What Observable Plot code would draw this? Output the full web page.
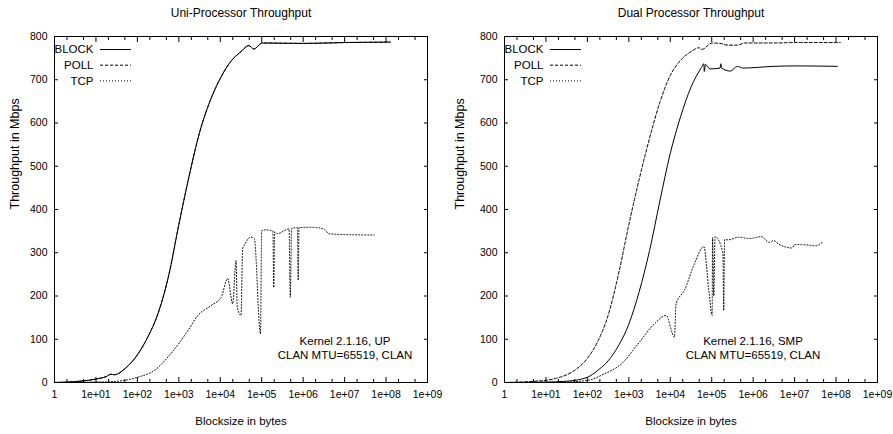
<!DOCTYPE html>
<html><head><meta charset="utf-8">
<script src="https://cdn.jsdelivr.net/npm/d3@7"></script>
<script src="https://cdn.jsdelivr.net/npm/@observablehq/plot@0.6"></script>
<style>
body{margin:0;background:#fff;}
#wrap{position:relative;width:893px;height:434px;overflow:hidden;}
#wrap > svg{position:absolute;top:0;}
</style></head><body><div id="wrap"></div>
<script>
// ---------- data ----------
const seriesNames = ["BLOCK", "POLL", "TCP"];
const xTickValues = [1, 1e1, 1e2, 1e3, 1e4, 1e5, 1e6, 1e7, 1e8, 1e9];
const yTickValues = [0, 100, 200, 300, 400, 500, 600, 700, 800];

// Uni-processor
const upBlockSize = [1, 3, 10, 18, 23, 28, 50, 100, 178, 316, 562, 1000, 1778, 3162, 5623, 10000, 17783, 31623, 48978, 64565, 102329, 1000000, 10000000, 125000000];
const upBlockMbps = [0, 2, 8, 14, 19, 18, 32, 64, 105, 160, 245, 365, 478, 578, 650, 703, 742, 765, 779, 771, 785, 784, 786, 787];
const upPollSize = [1, 3, 10, 18, 23, 28, 50, 100, 178, 316, 562, 1000, 1778, 3162, 5623, 10000, 17783, 31623, 48978, 64565, 102329, 1000000, 10000000, 125000000];
const upPollMbps = [0, 2, 8, 14, 19, 18, 32, 64, 105, 160, 245, 365, 478, 578, 650, 703, 742, 765, 779, 771, 785, 784, 786, 787];
const upTcpSize = [1, 10, 23, 50, 100, 257, 646, 1660, 2884, 6026, 10471, 15136, 19953, 23988, 25704, 31623, 34674, 39811, 53703, 66069, 93325, 100000, 123027, 186209, 194984, 204174, 234423, 457088, 489779, 524807, 724436, 758578, 794328, 1513561, 3162278, 4168694, 10000000, 51286138];
const upTcpMbps = [0, 1, 2, 5, 12, 28, 67, 120, 155, 178, 197, 240, 182, 282, 174, 155, 309, 321, 336, 333, 113, 351, 353, 350, 220, 348, 344, 355, 197, 356, 358, 236, 358, 359, 355, 344, 342, 341];

// Dual processor
const smpBlockSize = [1, 10, 32, 100, 178, 316, 562, 1000, 1778, 3162, 5623, 10000, 17783, 31623, 56234, 64565, 66069, 70795, 91201, 158489, 165959, 173780, 281838, 416869, 562341, 3162278, 10000000, 107151931];
const smpBlockMbps = [0, 1, 3, 12, 28, 50, 85, 135, 210, 305, 420, 530, 615, 683, 728, 737, 719, 735, 725, 727, 737, 727, 720, 731, 727, 731, 732, 731];
const smpPollSize = [1, 10, 18, 32, 56, 100, 178, 316, 562, 1000, 1778, 3162, 5623, 10000, 17783, 31623, 50119, 57544, 102329, 158489, 251189, 416869, 630957, 3162278, 10000000, 125892541];
const smpPollMbps = [0, 5, 10, 18, 32, 56, 95, 155, 250, 365, 470, 565, 648, 710, 745, 765, 774, 770, 785, 784, 780, 780, 785, 785, 786, 786];
const smpTcpSize = [1, 10, 32, 102, 257, 661, 1660, 4169, 7943, 12589, 13804, 21878, 38019, 64565, 85114, 102329, 104713, 112202, 120226, 186209, 194984, 204174, 257040, 446684, 794328, 1584893, 2398833, 3162278, 3981072, 8709636, 10000000, 19952623, 31622777, 46773514];
const smpTcpMbps = [0, 0, 1, 5, 20, 43, 89, 136, 155, 105, 182, 213, 274, 314, 213, 155, 335, 200, 337, 300, 166, 330, 330, 336, 333, 337, 324, 328, 321, 311, 319, 318, 316, 324];

const dashes = {BLOCK: null, POLL: "3,2", TCP: "1,2"};
const FONT = "'Liberation Sans', Arial, Helvetica, sans-serif";

function rows(sizes, mbps) { return sizes.map((s, i) => ({size: s, mbps: mbps[i]})); }
const fmtX = d => d === 1 ? "1" : "1e+" + String(Math.round(Math.log10(d))).padStart(2, "0");
const minorX = xTickValues.slice(0, -1).flatMap(d => [2 * d, 5 * d]);

function panel(opts) {
  const {title, notes, series, width, marginLeft, marginRight, left} = opts;
  const marginTop = 36, marginBottom = 52, height = 434;
  const marks = [
    Plot.axisX(xTickValues, {anchor: "bottom", tickSize: 0, tickPadding: 8, tickFormat: fmtX, label: null, fontSize: 10.5}),
    Plot.axisX(xTickValues, {anchor: "bottom", tickSize: -5, fill: "none", label: null}),
    Plot.axisX(minorX, {anchor: "bottom", tickSize: -3, fill: "none", label: null}),
    Plot.axisX(xTickValues, {anchor: "top", tickSize: -5, fill: "none", label: null}),
    Plot.axisX(minorX, {anchor: "top", tickSize: -3, fill: "none", label: null}),
    Plot.axisY(yTickValues, {anchor: "left", tickSize: 0, tickPadding: 7, label: null, fontSize: 10.5}),
    Plot.axisY(yTickValues, {anchor: "left", tickSize: -4, fill: "none", label: null}),
    Plot.axisY(yTickValues, {anchor: "right", tickSize: -4, fill: "none", label: null}),
    Plot.frame({stroke: "black", strokeWidth: 1}),
    Plot.text([title], {frameAnchor: "top", dy: -23, lineAnchor: "middle", fontSize: 12}),
    Plot.text(["Blocksize in bytes"], {frameAnchor: "bottom", dy: 39, lineAnchor: "middle", fontSize: 11.5}),
    Plot.text(["Throughput in Mbps"], {frameAnchor: "left", dx: -40 - (marginLeft - 54), rotate: -90, lineAnchor: "middle", fontSize: 12.5}),
    Plot.text([notes[0]], {frameAnchor: "bottom", dx: opts.noteDx, dy: -41, lineAnchor: "middle", fontSize: 11.5}),
    Plot.text([notes[1]], {frameAnchor: "bottom", dx: opts.noteDx, dy: -27, lineAnchor: "middle", fontSize: 11.5})
  ];
  seriesNames.forEach((name, i) => {
    const s = series[name];
    marks.push(Plot.line(rows(s[0], s[1]), {x: "size", y: "mbps", stroke: "black", strokeWidth: 1, strokeDasharray: dashes[name], curve: "monotone-x"}));
    marks.push(Plot.text([name], {frameAnchor: "top-left", dx: 39, dy: 13 + i * 15.7, textAnchor: "end", lineAnchor: "middle", fontSize: 11.5}));
  });
  const svg = Plot.plot({
    width, height, marginTop, marginBottom, marginLeft, marginRight,
    style: {fontFamily: FONT, fontSize: "10.5px", color: "black", background: "white", overflow: "visible"},
    x: {type: "log", domain: [1, 1e9]},
    y: {domain: [0, 800]},
    marks
  });
  // legend samples (layout only)
  const g = d3.select(svg).append("g").attr("stroke", "black").attr("stroke-width", 1);
  seriesNames.forEach((name, i) => {
    const y = marginTop + 13 + i * 15.7 + 0.5;
    g.append("line").attr("x1", marginLeft + 46).attr("x2", marginLeft + 77).attr("y1", y).attr("y2", y)
      .attr("stroke-dasharray", dashes[name]);
  });
  svg.style.left = left + "px";
  document.getElementById("wrap").appendChild(svg);
}

panel({
  title: "Uni-Processor Throughput",
  notes: ["Kernel 2.1.16, UP", "CLAN MTU=65519, CLAN"],
  series: {BLOCK: [upBlockSize, upBlockMbps], POLL: [upPollSize, upPollMbps], TCP: [upTcpSize, upTcpMbps]},
  width: 445, marginLeft: 54, marginRight: 18, left: 0, noteDx: 104
});
panel({
  title: "Dual Processor Throughput",
  notes: ["Kernel 2.1.16, SMP", "CLAN MTU=65519, CLAN"],
  series: {BLOCK: [smpBlockSize, smpBlockMbps], POLL: [smpPollSize, smpPollMbps], TCP: [smpTcpSize, smpTcpMbps]},
  width: 448, marginLeft: 59, marginRight: 16, left: 445, noteDx: 62
});
</script></body></html>
